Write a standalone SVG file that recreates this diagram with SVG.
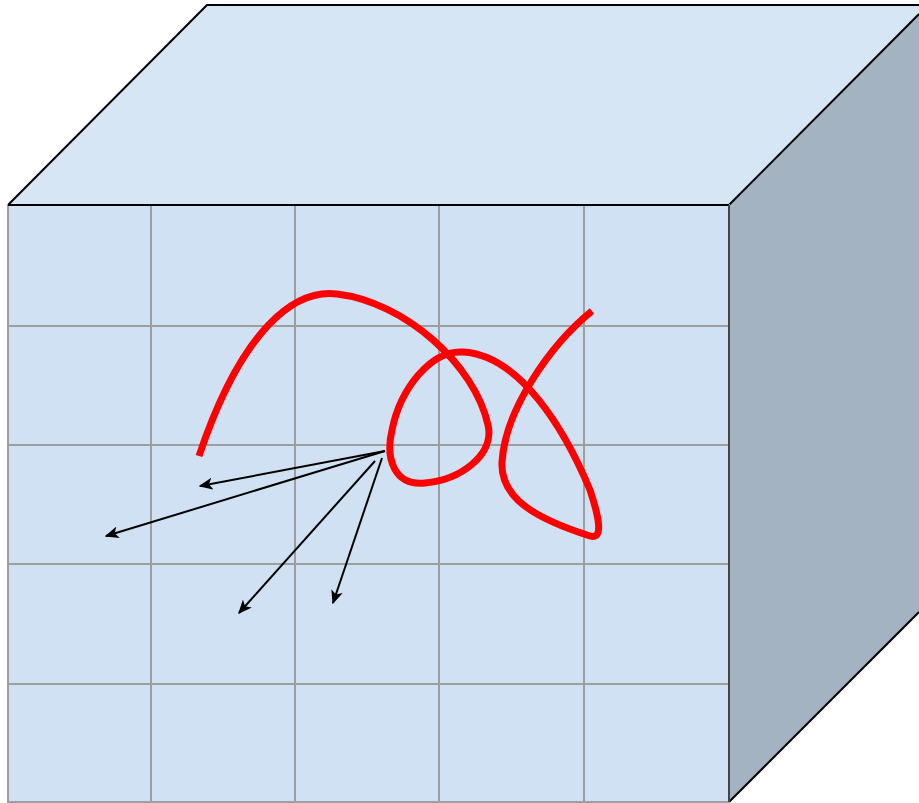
<svg xmlns="http://www.w3.org/2000/svg" width="919" height="803" viewBox="0 0 919 803">
<style>
.edge{fill:none;stroke:#000;stroke-width:2;stroke-linejoin:round}
.arrow{fill:none;stroke:#000;stroke-width:2;marker-end:url(#ah)}
.curve{fill:none;stroke:#ff0000;stroke-width:7}
</style>
<defs>
<marker id="ah" viewBox="0 0 10 10" refX="9" refY="5" markerWidth="14" markerHeight="12" markerUnits="userSpaceOnUse" orient="auto" preserveAspectRatio="none">
<path d="M0,0 L10,5 L0,10 L2.5,5 Z" fill="#000"/>
</marker>
</defs>
<rect width="919" height="803" fill="#fff"/>
<g id="top-face"><polygon points="8,205 207,5 919,5 919,14 729,205" fill="#d6e6f5"/><polyline class="edge" points="8,205 207,5 919,5"/></g>
<g id="right-face"><polygon points="729,205 919,14 919,612 729,802" fill="#a3b3c2"/><line class="edge" x1="729" y1="205" x2="919" y2="14"/><line class="edge" x1="729" y1="802" x2="919" y2="612"/></g>
<g id="front-face">
<rect x="8" y="205" width="721" height="597" fill="#cfe1f2"/>
<g stroke="#9e9e9e" stroke-width="2" fill="none">
<rect x="8" y="205" width="721" height="597"/>
<line x1="151" y1="205" x2="151" y2="802"/>
<line x1="295" y1="205" x2="295" y2="802"/>
<line x1="439" y1="205" x2="439" y2="802"/>
<line x1="584" y1="205" x2="584" y2="802"/>
<line x1="8" y1="326" x2="729" y2="326"/>
<line x1="8" y1="445" x2="729" y2="445"/>
<line x1="8" y1="564" x2="729" y2="564"/>
<line x1="8" y1="684" x2="729" y2="684"/>
</g>
<line class="edge" x1="8" y1="205" x2="729" y2="205"/>
<line x1="729" y1="205" x2="729" y2="802" stroke="#444" stroke-width="2"/>
</g>
<g id="curve">
<path class="curve" d="M199,456 C242,328 295,289 337,294 C405,302 475,365 488,425 C495,455 460,480 425,483 C395,486 385,460 392,430 C400,390 430,350 463,352 C520,355 565,430 590,490 C600,520 603,540 590,536 C540,520 500,500 502,462 C505,410 550,345 592,311"/>
</g>
<g id="connectors">
<line class="arrow" x1="385" y1="451" x2="200" y2="486"/>
<line class="arrow" x1="385" y1="451" x2="106" y2="536"/>
<line class="arrow" x1="375" y1="461" x2="239" y2="613"/>
<line class="arrow" x1="382" y1="458" x2="333" y2="603"/>
</g>
</svg>
